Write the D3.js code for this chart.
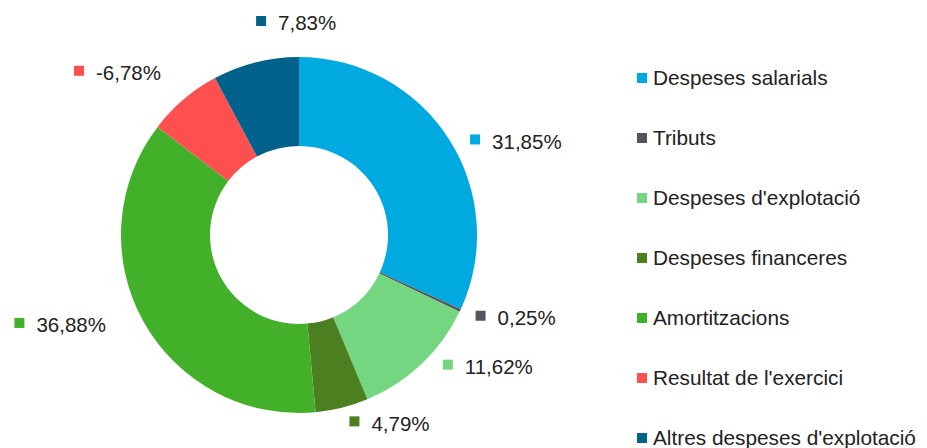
<!DOCTYPE html>
<html>
<head>
<meta charset="utf-8">
<script src="https://cdn.jsdelivr.net/npm/d3@7"></script>
<style>
  html, body { margin: 0; padding: 0; background: #fff; }
  svg { display: block; font-family: "Liberation Sans", Arial, Helvetica, sans-serif; }
</style>
</head>
<body>
<svg id="chart" width="927" height="448"></svg>
<script>
// ---- Data ----
const categories = [
  "Despeses salarials",
  "Tributs",
  "Despeses d'explotació",
  "Despeses financeres",
  "Amortitzacions",
  "Resultat de l'exercici",
  "Altres despeses d'explotació"
];
const shares = [31.85, 0.25, 11.62, 4.79, 36.88, 6.78, 7.83];
const labels = ["31,85%", "0,25%", "11,62%", "4,79%", "36,88%", "-6,78%", "7,83%"];
const colors = ["#00a9e0", "#53565a", "#74d680", "#4b7f20", "#43b02a", "#ff5050", "#00628a"];

// ---- Layout ----
const W = 927, H = 448;
const cx = 299, cy = 235;
const outerR = 178, innerR = 89;
const textColor = "#222222";
// label angle adjustments (degrees) applied by the label layout
const labelNudge = [4, 0, -4, -1, 4, 0, 13.3];

const svg = d3.select("#chart");
const g = svg.append("g").attr("transform", `translate(${cx},${cy})`);

const pie = d3.pie().value(d => d).sort(null);
const arcs = pie(shares);
const arc = d3.arc().innerRadius(innerR).outerRadius(outerR);

g.selectAll("path.slice")
  .data(arcs)
  .join("path")
  .attr("class", "slice")
  .attr("d", arc)
  .attr("fill", (d, i) => colors[i]);

// ---- Data labels ----
const labelFont = 20.5;
const sq = 10, gap = 12;
arcs.forEach((d, i) => {
  const mid = (d.startAngle + d.endAngle) / 2 + labelNudge[i] * Math.PI / 180;
  const s = Math.sin(mid), c = Math.cos(mid);
  let side;
  if (s > 0.2) side = "right";
  else if (s < -0.2) side = "left";
  else side = c > 0 ? "top" : "bottom";
  const r = side === "right" ? 195 : (side === "left" ? 213 : 204);
  const ax = r * s, ay = -r * c;

  const lg = g.append("g");
  const t = lg.append("text")
    .attr("x", sq + gap)
    .attr("y", 0)
    .attr("dy", "0.35em")
    .attr("font-size", labelFont)
    .attr("fill", textColor)
    .text(labels[i]);
  lg.append("rect")
    .attr("x", 0).attr("y", -sq / 2 - 2)
    .attr("width", sq).attr("height", sq)
    .attr("fill", colors[i]);
  const tw = t.node().getComputedTextLength();
  const bw = sq + gap + tw;
  let gx, gy;
  if (side === "right") { gx = ax; gy = ay; }
  else if (side === "left") { gx = ax - bw; gy = ay; }
  else if (side === "top") { gx = ax - bw / 2; gy = ay - 8; }
  else { gx = ax - bw / 2; gy = ay + 8; }
  lg.attr("transform", `translate(${gx},${gy})`);
});

// ---- Legend ----
const legend = svg.append("g").attr("transform", "translate(637,78)");
const rowStep = 60;
categories.forEach((name, i) => {
  const row = legend.append("g").attr("transform", `translate(0,${i * rowStep})`);
  row.append("rect")
    .attr("x", 0).attr("y", -5)
    .attr("width", 10).attr("height", 10)
    .attr("fill", colors[i]);
  row.append("text")
    .attr("x", 16)
    .attr("y", 0)
    .attr("dy", "0.35em")
    .attr("font-size", 20.8)
    .attr("fill", textColor)
    .text(name);
});
</script>
</body>
</html>
